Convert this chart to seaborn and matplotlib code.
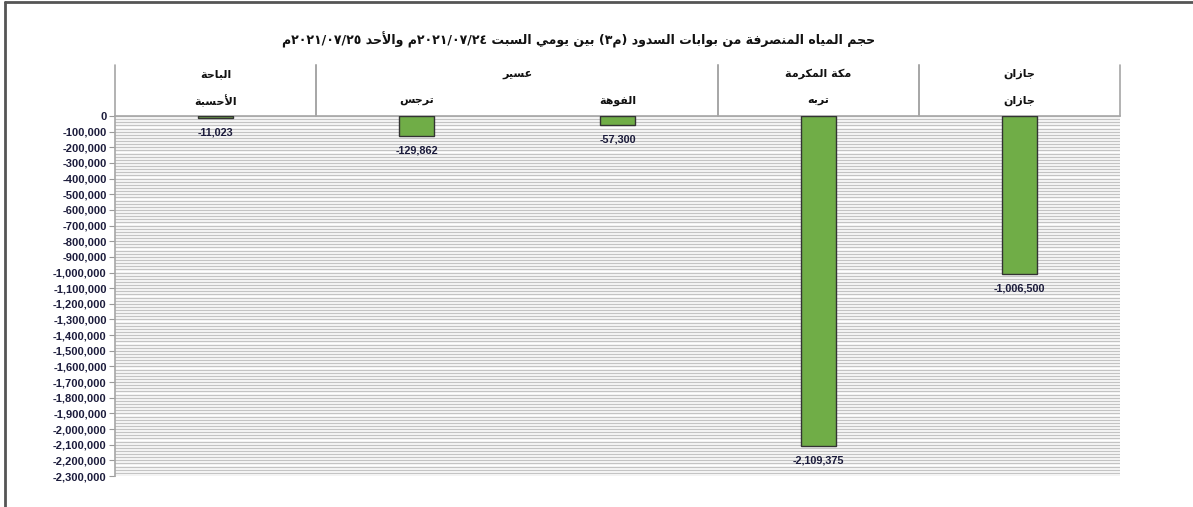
import re
import matplotlib
matplotlib.use('Agg')
from matplotlib import pyplot as plt
from matplotlib.lines import Line2D
from matplotlib.ticker import MultipleLocator, FuncFormatter
import matplotlib.transforms as mtransforms
import seaborn as sns

# data
regions = ['الباحة', 'عسير', 'عسير', 'مكة المكرمة', 'جازان']
dams = ['الأحسبة', 'ترجس', 'الفوهة', 'تربه', 'جازان']
released = [-11023, -129862, -57300, -2109375, -1006500]
title_text = 'حجم المياه المنصرفة من بوابات السدود (م٣) بين يومي السبت ٢٠٢١/٠٧/٢٤م والأحد ٢٠٢١/٠٧/٢٥م'

# --- minimal arabic shaping (matplotlib has no shaping / bidi) ---
# char: (isolated, final, initial, medial)
FORMS = {
    'ا': ('\uFE8D', '\uFE8E', None, None),
    'أ': ('\uFE83', '\uFE84', None, None),
    'ب': ('\uFE8F', '\uFE90', '\uFE91', '\uFE92'),
    'ة': ('\uFE93', '\uFE94', None, None),
    'ت': ('\uFE95', '\uFE96', '\uFE97', '\uFE98'),
    'ج': ('\uFE9D', '\uFE9E', '\uFE9F', '\uFEA0'),
    'ح': ('\uFEA1', '\uFEA2', '\uFEA3', '\uFEA4'),
    'د': ('\uFEA9', '\uFEAA', None, None),
    'ر': ('\uFEAD', '\uFEAE', None, None),
    'ز': ('\uFEAF', '\uFEB0', None, None),
    'س': ('\uFEB1', '\uFEB2', '\uFEB3', '\uFEB4'),
    'ص': ('\uFEB9', '\uFEBA', '\uFEBB', '\uFEBC'),
    'ع': ('\uFEC9', '\uFECA', '\uFECB', '\uFECC'),
    'ف': ('\uFED1', '\uFED2', '\uFED3', '\uFED4'),
    'ك': ('\uFED9', '\uFEDA', '\uFEDB', '\uFEDC'),
    'ل': ('\uFEDD', '\uFEDE', '\uFEDF', '\uFEE0'),
    'م': ('\uFEE1', '\uFEE2', '\uFEE3', '\uFEE4'),
    'ن': ('\uFEE5', '\uFEE6', '\uFEE7', '\uFEE8'),
    'ه': ('\uFEE9', '\uFEEA', '\uFEEB', '\uFEEC'),
    'و': ('\uFEED', '\uFEEE', None, None),
    'ي': ('\uFEF1', '\uFEF2', '\uFEF3', '\uFEF4'),
    'لا': ('\uFEFB', '\uFEFC', None, None),
    'لأ': ('\uFEF7', '\uFEF8', None, None),
}
MIRROR = {'(': ')', ')': '('}


def ar(text):
    units = []
    i = 0
    while i < len(text):
        if text[i] == 'ل' and i + 1 < len(text) and text[i + 1] in 'اأ':
            units.append(text[i:i + 2])
            i += 2
        else:
            units.append(text[i])
            i += 1
    shaped = []
    for k, u in enumerate(units):
        if u not in FORMS:
            shaped.append(u)
            continue
        prev = units[k - 1] if k > 0 else ''
        nxt = units[k + 1] if k + 1 < len(units) else ''
        p = prev in FORMS and FORMS[prev][2] is not None
        n = FORMS[u][2] is not None and nxt in FORMS
        f = FORMS[u]
        if p and n:
            shaped.append(f[3])
        elif p:
            shaped.append(f[1])
        elif n:
            shaped.append(f[2])
        else:
            shaped.append(f[0])
    s = ''.join(shaped)
    tokens = re.findall(r'[0-9\u0660-\u0669/]+|.', s)
    return ''.join(MIRROR.get(t, t) for t in reversed(tokens))


sns.set_theme(style='white')
plt.rcParams['font.family'] = ['DejaVu Sans']

fig = plt.figure(figsize=(11.93, 5.07), dpi=100)
ax = fig.add_axes([115 / 1193, 1 - 476 / 507, 1005 / 1193, 360 / 507])

sns.barplot(x=dams, y=released, order=dams, color='#70AD47', saturation=1,
            width=0.175, edgecolor='#333333', linewidth=1, ax=ax, zorder=3)

ax.set_ylim(-2300000, 0)
ax.set_xlim(-0.5, 4.5)
ax.yaxis.set_major_locator(MultipleLocator(100000))
ax.yaxis.set_minor_locator(MultipleLocator(20000))
ax.yaxis.set_major_formatter(FuncFormatter(lambda v, p: f'{int(round(v)):,}'))
ax.grid(True, axis='y', which='both', color='#c4c4c4', linewidth=1.0, zorder=0)
ax.set_axisbelow(True)
ax.set_xticks([])
ax.set_xlabel('')
ax.set_ylabel('')
ax.tick_params(axis='y', which='major', left=True, length=4, width=0.8, color='#9a9a9a',
               labelsize=8, labelcolor='#1c1c3c', pad=2)
ax.tick_params(axis='y', which='minor', left=False)
for lab in ax.get_yticklabels():
    lab.set_fontfamily('Liberation Sans')
    lab.set_fontweight('bold')
for side in ['right', 'bottom']:
    ax.spines[side].set_visible(False)
ax.spines['left'].set_color('#a6a6a6')
ax.spines['top'].set_color('#a6a6a6')
ax.spines['left'].set_linewidth(1.2)
ax.spines['top'].set_linewidth(1.2)

# data labels below each bar
for i, v in enumerate(released):
    ax.annotate(f'{v:,}', xy=(i, v), xytext=(0, -10.5), textcoords='offset points',
                ha='center', va='center', fontsize=7.8, fontweight='bold',
                color='#1c1c3c', family='Liberation Sans')

# two-level category header above the plot
trans = mtransforms.blended_transform_factory(ax.transData, ax.transAxes)
for i, d in enumerate(dams):
    ax.text(i, 1.042, ar(d), transform=trans, ha='center', va='center',
            fontsize=8, fontweight='bold', color='#111111')
groups = []
for i, r in enumerate(regions):
    if groups and groups[-1][0] == r:
        groups[-1][2] = i
    else:
        groups.append([r, i, i])
for r, a, b in groups:
    ax.text((a + b) / 2, 1.117, ar(r), transform=trans, ha='center', va='center',
            fontsize=8, fontweight='bold', color='#111111')
    for xv in (a - 0.5, b + 0.5):
        ax.add_line(Line2D([xv, xv], [1.0, 1.142], transform=trans, color='#a6a6a6',
                           linewidth=1.2, clip_on=False))

fig.text(579 / 1193, 1 - 40 / 507, ar(title_text), ha='center', va='center',
         fontsize=9, fontweight='bold', color='#111111')

# outer frame (top and left)
fig.add_artist(Line2D([5 / 1193, 1], [1 - 1.5 / 507, 1 - 1.5 / 507], transform=fig.transFigure,
                      color='#555555', linewidth=2))
fig.add_artist(Line2D([5 / 1193, 5 / 1193], [0, 1 - 1.5 / 507], transform=fig.transFigure,
                      color='#555555', linewidth=2))

fig.savefig('out.png', dpi=100, facecolor='white')
